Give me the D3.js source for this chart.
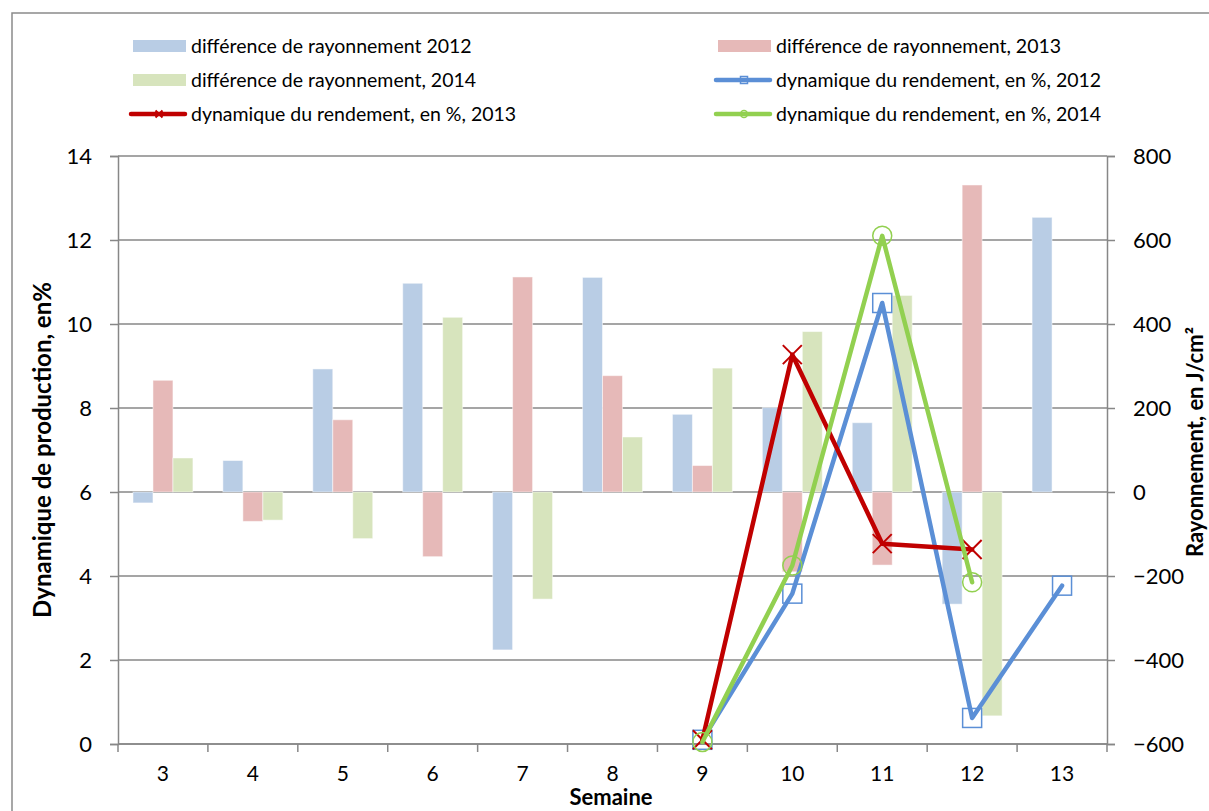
<!DOCTYPE html>
<html>
<head>
<meta charset="utf-8">
<script src="https://cdn.jsdelivr.net/npm/d3@7"></script>
<style>
  body { margin: 0; background: #fff; }
  text { font-family: Lato, "Open Sans", sans-serif; fill: #000; }
</style>
</head>
<body>
<div id="chart"></div>
<script>
const width = 1209, height = 811;

// weeks on the x axis
const semaines = ["3", "4", "5", "6", "7", "8", "9", "10", "11", "12", "13"];

// radiation difference (right axis, J/cm²)
const ray2012 = [-26, 75, 293, 497, -376, 511, 185, 201, 165, -267, 654];
const ray2013 = [266, -70, 172, -154, 512, 277, 63, -190, -174, 731, null];
const ray2014 = [81, -67, -111, 416, -255, 131, 295, 382, 468, -533, null];

// yield dynamics (left axis, %)
const dyn2012 = [null, null, null, null, null, null, 0.1, 3.58, 10.5, 0.62, 3.77];
const dyn2013 = [null, null, null, null, null, null, 0.1, 9.27, 4.77, 4.63, null];
const dyn2014 = [null, null, null, null, null, null, 0.05, 4.25, 12.1, 3.85, null];

const leftTicks = [0, 2, 4, 6, 8, 10, 12, 14];
const rightTicks = [-600, -400, -200, 0, 200, 400, 600, 800];

const barSeries = [
  { key: "2012", name: "différence de rayonnement 2012", values: ray2012, color: "#b9cde5" },
  { key: "2013", name: "différence de rayonnement, 2013", values: ray2013, color: "#e6b9b8" },
  { key: "2014", name: "différence de rayonnement, 2014", values: ray2014, color: "#d7e4bd" }
];
const lineSeries = [
  { name: "dynamique du rendement, en %, 2012", values: dyn2012, color: "#5b8fd6", marker: "square" },
  { name: "dynamique du rendement, en %, 2013", values: dyn2013, color: "#c00000", marker: "cross" },
  { name: "dynamique du rendement, en %, 2014", values: dyn2014, color: "#92d050", marker: "circle" }
];

const svg = d3.select("#chart").append("svg")
    .attr("width", width)
    .attr("height", height);

// chart frame
svg.append("rect")
    .attr("x", 12).attr("y", 13)
    .attr("width", width).attr("height", height)
    .attr("fill", "none").attr("stroke", "#8a8a8a").attr("stroke-width", 1.5);

const plot = { left: 118, right: 1107, top: 156, bottom: 744 };

const x = d3.scaleBand().domain(semaines).range([plot.left, plot.right]);
const xSub = d3.scaleBand().domain(barSeries.map(d => d.key))
    .range([x.bandwidth() / 6, x.bandwidth() * 5 / 6]);
const yL = d3.scaleLinear().domain([0, 14]).range([plot.bottom, plot.top]);
const yR = d3.scaleLinear().domain([-600, 800]).range([plot.bottom, plot.top]);

const grid = "#878787";

// horizontal gridlines
svg.append("g").selectAll("line")
    .data(leftTicks)
    .join("line")
    .attr("x1", plot.left).attr("x2", plot.right)
    .attr("y1", d => yL(d)).attr("y2", d => yL(d))
    .attr("stroke", grid).attr("stroke-width", 1.5);

// bars
barSeries.forEach(s => {
  svg.append("g").selectAll("rect")
      .data(s.values.map((v, i) => ({ v, c: semaines[i] })).filter(d => d.v !== null))
      .join("rect")
      .attr("x", d => x(d.c) + xSub(s.key))
      .attr("width", xSub.bandwidth())
      .attr("y", d => yR(Math.max(0, d.v)))
      .attr("height", d => Math.abs(yR(d.v) - yR(0)))
      .attr("fill", s.color)
      .attr("stroke", "#fff").attr("stroke-opacity", 0.5).attr("stroke-width", 1);
});

// axes
const axisL = svg.append("g")
    .attr("transform", `translate(${plot.left},0)`)
    .call(d3.axisLeft(yL).tickValues(leftTicks).tickSize(8).tickPadding(18));
const axisR = svg.append("g")
    .attr("transform", `translate(${plot.right},0)`)
    .call(d3.axisRight(yR).tickValues(rightTicks).tickSize(8).tickPadding(18));
const axisB = svg.append("g")
    .attr("transform", `translate(0,${plot.bottom})`)
    .call(d3.axisBottom(x).tickSize(0).tickPadding(22));

[axisL, axisR].forEach(a => {
  a.select(".domain").attr("stroke", grid).attr("stroke-width", 1.5);
  a.selectAll(".tick line").attr("stroke", grid).attr("stroke-width", 1.5);
  a.selectAll("text").style("font-size", "22px").attr("fill", "#000");
});
axisB.selectAll("text").style("font-size", "21px").attr("fill", "#000");
axisB.select(".domain").remove();
axisB.append("line")
    .attr("x1", plot.left).attr("x2", plot.right)
    .attr("stroke", grid).attr("stroke-width", 1.5);

// category boundary ticks on x axis
axisB.selectAll(".sep")
    .data(semaines.concat(["end"]))
    .join("line")
    .attr("class", "sep")
    .attr("x1", (d, i) => plot.left + i * x.bandwidth())
    .attr("x2", (d, i) => plot.left + i * x.bandwidth())
    .attr("y1", 0).attr("y2", 8)
    .attr("stroke", grid).attr("stroke-width", 1.5);

// markers
function drawMarker(g, type, color, cx, cy, size) {
  if (type === "square") {
    g.append("rect").attr("x", cx - size).attr("y", cy - size)
        .attr("width", size * 2).attr("height", size * 2)
        .attr("fill", "none").attr("stroke", color).attr("stroke-width", 1.5);
  } else if (type === "circle") {
    g.append("circle").attr("cx", cx).attr("cy", cy).attr("r", size)
        .attr("fill", "none").attr("stroke", color).attr("stroke-width", 1.5);
  } else {
    g.append("path")
        .attr("d", `M${cx - size},${cy - size}L${cx + size},${cy + size}M${cx - size},${cy + size}L${cx + size},${cy - size}`)
        .attr("stroke", color).attr("stroke-width", 2);
  }
}

// lines
const line = d3.line()
    .defined(d => d.v !== null)
    .x(d => x(d.c) + x.bandwidth() / 2)
    .y(d => yL(d.v));

lineSeries.forEach(s => {
  const pts = s.values.map((v, i) => ({ v, c: semaines[i] }));
  const g = svg.append("g");
  g.append("path")
      .datum(pts)
      .attr("d", line)
      .attr("fill", "none")
      .attr("stroke", s.color)
      .attr("stroke-width", 4.5)
      .attr("stroke-linejoin", "round")
      .attr("stroke-linecap", "round");
  pts.filter(d => d.v !== null).forEach(d => {
    drawMarker(g, s.marker, s.color, x(d.c) + x.bandwidth() / 2, yL(d.v), 9.5);
  });
});

// legend
const legendItems = [
  { item: barSeries[0], type: "bar", lx: 133, ly: 46 },
  { item: barSeries[1], type: "bar", lx: 718, ly: 46 },
  { item: barSeries[2], type: "bar", lx: 133, ly: 80 },
  { item: lineSeries[0], type: "line", lx: 718, ly: 80 },
  { item: lineSeries[1], type: "line", lx: 133, ly: 114 },
  { item: lineSeries[2], type: "line", lx: 718, ly: 114 }
];
const legend = svg.append("g");
legendItems.forEach(d => {
  const g = legend.append("g");
  if (d.type === "bar") {
    g.append("rect").attr("x", d.lx).attr("y", d.ly - 6)
        .attr("width", 53).attr("height", 12).attr("fill", d.item.color);
  } else {
    g.append("line").attr("x1", d.lx - 2).attr("x2", d.lx + 52)
        .attr("y1", d.ly).attr("y2", d.ly)
        .attr("stroke", d.item.color).attr("stroke-width", 4.5)
        .attr("stroke-linecap", "round");
    drawMarker(g, d.item.marker, d.item.color, d.lx + 26, d.ly, 3.5);
  }
  g.append("text").attr("x", d.lx + 58).attr("y", d.ly)
      .attr("dy", "0.35em")
      .style("font-size", "19.5px")
      .text(d.item.name);
});

// axis titles
svg.append("text")
    .attr("transform", `translate(51,${(plot.top + plot.bottom) / 2}) rotate(-90)`)
    .attr("text-anchor", "middle")
    .style("font-size", "24px").style("font-weight", "bold")
    .text("Dynamique de production, en%");
svg.append("text")
    .attr("transform", `translate(1203,${(plot.top + plot.bottom) / 2 - 8}) rotate(-90)`)
    .attr("text-anchor", "middle")
    .style("font-size", "22px").style("font-weight", "bold")
    .text("Rayonnement, en J/cm²");
svg.append("text")
    .attr("x", 611).attr("y", 805)
    .attr("text-anchor", "middle")
    .style("font-size", "22px").style("font-weight", "bold")
    .text("Semaine");
</script>
</body>
</html>
